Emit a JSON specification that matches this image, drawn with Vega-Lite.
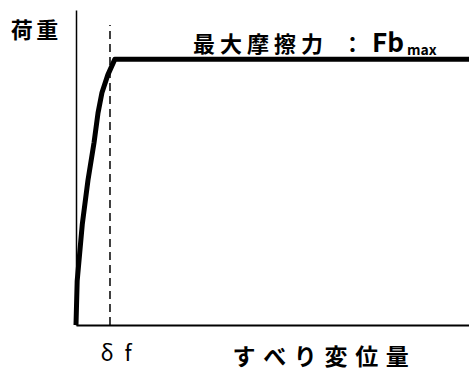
{
  "$schema": "https://vega.github.io/schema/vega-lite/v6.json",
  "width": 393,
  "height": 315,
  "autosize": {"type": "none"},
  "padding": {"left": 76, "top": 10, "right": 0, "bottom": 49},
  "background": "white",
  "config": {"view": {"stroke": null}, "font": "Noto Sans CJK JP"},
  "datasets": {
    "curve": [
      {"disp": 0, "load": 0},
      {"disp": 0.3, "load": 14},
      {"disp": 1.6, "load": 32},
      {"disp": 3.05, "load": 46},
      {"disp": 4.6, "load": 58},
      {"disp": 5.6, "load": 67.3},
      {"disp": 6.6, "load": 73.7},
      {"disp": 8.1, "load": 79.4},
      {"disp": 9.9, "load": 84.4},
      {"disp": 100, "load": 84.4}
    ],
    "df": [
      {"disp": 8.65, "load": 0},
      {"disp": 8.65, "load": 95.2}
    ],
    "ann": [
      {"disp": 29.8, "load": 86.7, "text": "最 大 摩 擦 力\u2002\u2004："}
    ],
    "fb": [
      {"disp": 75.3, "load": 86.7, "text": "Fb"}
    ],
    "sub": [
      {"disp": 84.2, "load": 85.6, "text": "max"}
    ]
  },
  "layer": [
    {
      "data": {"name": "df"},
      "mark": {"type": "line", "color": "black", "strokeWidth": 1.5, "strokeDash": [8, 5]},
      "encoding": {
        "x": {
          "field": "disp", "type": "quantitative",
          "scale": {"domain": [0, 100], "nice": false, "zero": false},
          "axis": {
            "values": [8.65], "labelExpr": "'δ\u2002f'", "ticks": false, "grid": false,
            "domainColor": "black", "domainWidth": 2,
            "labelFontSize": 22, "labelColor": "black", "labelPadding": 18, "labelFont": "Noto Sans CJK JP",
            "labelAlign": "left", "labelOffset": -10,
            "title": "す\u2004べ\u2004り\u2004変\u2004位\u2004量", "titleFontSize": 23, "titleFontWeight": "bold", "titleColor": "black",
            "titleX": 156, "titleY": 32, "titleAlign": "left", "titleBaseline": "middle", "titleFont": "Noto Sans CJK JP"
          }
        },
        "y": {
          "field": "load", "type": "quantitative",
          "scale": {"domain": [0, 100], "nice": false, "zero": false},
          "axis": {
            "labels": false, "ticks": false, "grid": false,
            "domainColor": "black", "domainWidth": 1.5,
            "title": "荷\u2006重", "titleAngle": 0, "titleFontSize": 22, "titleFontWeight": "bold", "titleColor": "black",
            "titleX": -42, "titleY": 20, "titleAlign": "center", "titleBaseline": "middle", "titleFont": "Noto Sans CJK JP"
          }
        }
      }
    },
    {
      "data": {"name": "curve"},
      "mark": {"type": "line", "color": "black", "strokeWidth": 5, "strokeJoin": "round", "clip": false},
      "encoding": {
        "x": {"field": "disp", "type": "quantitative"},
        "y": {"field": "load", "type": "quantitative"}
      }
    },
    {
      "data": {"name": "ann"},
      "mark": {"type": "text", "align": "left", "baseline": "alphabetic", "fontSize": 22, "fontWeight": "bold", "color": "black", "font": "Noto Sans CJK JP"},
      "encoding": {
        "x": {"field": "disp", "type": "quantitative"},
        "y": {"field": "load", "type": "quantitative"},
        "text": {"field": "text"}
      }
    },
    {
      "data": {"name": "fb"},
      "mark": {"type": "text", "align": "left", "baseline": "alphabetic", "fontSize": 26, "fontWeight": "bold", "color": "black", "font": "Noto Sans CJK JP"},
      "encoding": {
        "x": {"field": "disp", "type": "quantitative"},
        "y": {"field": "load", "type": "quantitative"},
        "text": {"field": "text"}
      }
    },
    {
      "data": {"name": "sub"},
      "mark": {"type": "text", "align": "left", "baseline": "alphabetic", "fontSize": 14, "fontWeight": "bold", "color": "black", "font": "Noto Sans CJK JP"},
      "encoding": {
        "x": {"field": "disp", "type": "quantitative"},
        "y": {"field": "load", "type": "quantitative"},
        "text": {"field": "text"}
      }
    }
  ]
}
